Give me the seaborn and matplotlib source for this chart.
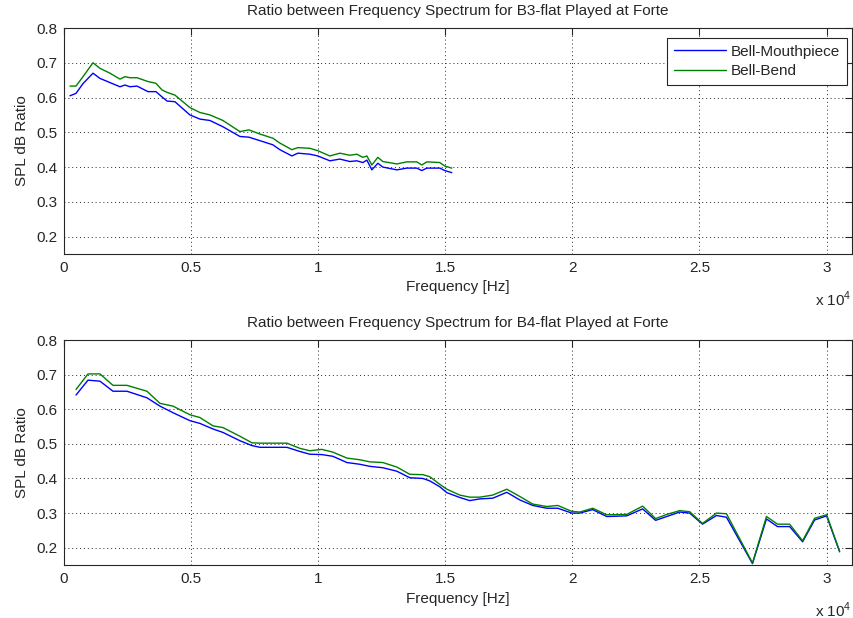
import numpy as np
import pandas as pd
import matplotlib
matplotlib.use("Agg")
import matplotlib.pyplot as plt
import seaborn as sns

# ---------------- data ----------------
series_names = ["Bell-Mouthpiece", "Bell-Bend"]
titles = ["Ratio between Frequency Spectrum for B3-flat Played at Forte",
          "Ratio between Frequency Spectrum for B4-flat Played at Forte"]

b3_freq = [236, 472, 747, 1140, 1416, 1809, 2202, 2399, 2595, 2870, 3303, 3617,
           3853, 4050, 4364, 4954, 5348, 5741, 6252, 6921, 7274, 7707, 8218, 8493,
           8965, 9201, 9673, 9987, 10459, 10852, 11245, 11521, 11757, 11914, 12111,
           12347, 12543, 13094, 13487, 13880, 14077, 14273, 14784, 14981, 15256]
b3_mouthpiece = [0.605, 0.612, 0.640, 0.670, 0.655, 0.643, 0.631, 0.636, 0.631, 0.633,
                 0.617, 0.617, 0.602, 0.590, 0.588, 0.550, 0.538, 0.534, 0.516, 0.488,
                 0.486, 0.476, 0.464, 0.450, 0.432, 0.440, 0.437, 0.432, 0.418, 0.423,
                 0.416, 0.418, 0.413, 0.420, 0.392, 0.411, 0.400, 0.392, 0.397, 0.397,
                 0.390, 0.397, 0.397, 0.390, 0.384]
b3_bend = [0.633, 0.633, 0.660, 0.700, 0.684, 0.670, 0.653, 0.660, 0.657, 0.657,
           0.646, 0.641, 0.622, 0.615, 0.607, 0.571, 0.557, 0.550, 0.534, 0.502,
           0.507, 0.495, 0.483, 0.469, 0.450, 0.456, 0.454, 0.447, 0.432, 0.440,
           0.434, 0.437, 0.428, 0.432, 0.406, 0.428, 0.416, 0.409, 0.415, 0.415,
           0.406, 0.415, 0.413, 0.403, 0.397]

b4_freq = [472, 944, 1416, 1927, 2477, 3264, 3775, 4286, 4954, 5348, 5859, 6252,
           6921, 7392, 7707, 8768, 9279, 9673, 10145, 10577, 11128, 11639, 12032,
           12543, 13094, 13605, 14116, 14391, 14784, 15060, 15571, 15964, 16358,
           16868, 17419, 17930, 18442, 18992, 19424, 19975, 20289, 20800, 21351,
           22137, 22763, 23274, 23710, 24221, 24614, 25118, 25669, 26062, 27085,
           27635, 28068, 28546, 29057, 29529, 30001, 30513]
b4_mouthpiece = [0.641, 0.684, 0.681, 0.652, 0.652, 0.633, 0.609, 0.590, 0.567, 0.559,
                 0.543, 0.533, 0.509, 0.495, 0.490, 0.490, 0.478, 0.470, 0.469, 0.464,
                 0.446, 0.441, 0.435, 0.431, 0.421, 0.402, 0.400, 0.393, 0.376, 0.359,
                 0.345, 0.336, 0.341, 0.343, 0.360, 0.338, 0.322, 0.314, 0.314, 0.300,
                 0.300, 0.310, 0.290, 0.292, 0.312, 0.279, 0.290, 0.303, 0.300, 0.268,
                 0.293, 0.288, 0.154, 0.283, 0.261, 0.261, 0.217, 0.280, 0.292, 0.188]
b4_bend = [0.657, 0.702, 0.702, 0.669, 0.669, 0.652, 0.617, 0.609, 0.584, 0.576,
           0.552, 0.547, 0.522, 0.503, 0.502, 0.502, 0.487, 0.480, 0.484, 0.476,
           0.459, 0.454, 0.448, 0.446, 0.433, 0.412, 0.411, 0.405, 0.383, 0.369,
           0.352, 0.346, 0.346, 0.352, 0.369, 0.348, 0.326, 0.319, 0.322, 0.305,
           0.303, 0.314, 0.295, 0.296, 0.320, 0.284, 0.296, 0.307, 0.304, 0.270,
           0.300, 0.298, 0.156, 0.290, 0.268, 0.268, 0.220, 0.285, 0.295, 0.190]

x_ticks = [0, 5000, 10000, 15000, 20000, 25000, 30000]
x_tick_labels = ["0", "0.5", "1", "1.5", "2", "2.5", "3"]
y_ticks = [0.2, 0.3, 0.4, 0.5, 0.6, 0.7, 0.8]
y_tick_labels = ["0.2", "0.3", "0.4", "0.5", "0.6", "0.7", "0.8"]

# ---------------- style ----------------
sns.set_style("white")
plt.rcParams["font.family"] = ["Liberation Sans", "DejaVu Sans"]
plt.rcParams["mathtext.fontset"] = "custom"
plt.rcParams["mathtext.rm"] = "Liberation Sans"
FS = 11
INK = "#262626"

fig = plt.figure(figsize=(8.54, 6.18), dpi=100)
ax_top = fig.add_axes([64 / 854, 1 - 254 / 618, 788 / 854, 226 / 618])
ax_bot = fig.add_axes([64 / 854, 1 - 565 / 618, 788 / 854, 225 / 618])

palette = {"Bell-Mouthpiece": "#0000ff", "Bell-Bend": "#008000"}

def make_df(freq, mp, bend):
    return pd.DataFrame({
        "freq": list(freq) * 2,
        "ratio": list(mp) + list(bend),
        "series": [series_names[0]] * len(freq) + [series_names[1]] * len(freq),
    })

datasets = [(b3_freq, b3_mouthpiece, b3_bend), (b4_freq, b4_mouthpiece, b4_bend)]

for i, (ax, (fr, mp, bd), title) in enumerate(zip([ax_top, ax_bot], datasets, titles)):
    df = make_df(fr, mp, bd)
    sns.lineplot(data=df, x="freq", y="ratio", hue="series", palette=palette,
                 hue_order=series_names, estimator=None, sort=False,
                 linewidth=1.0, ax=ax, legend=(i == 0))
    ax.set_xlim(0, 31000)
    ax.set_ylim(0.15, 0.8)
    ax.set_xticks(x_ticks)
    ax.set_xticklabels(x_tick_labels, fontsize=FS)
    ax.set_yticks(y_ticks)
    ax.set_yticklabels(y_tick_labels, fontsize=FS)
    ax.tick_params(direction="in", length=5, width=0.8, top=True, right=True,
                   color=INK, labelcolor=INK, pad=5)
    ax.grid(True, color=INK, linestyle=(0, (1, 3)), linewidth=0.7)
    for sp in ax.spines.values():
        sp.set_visible(True)
        sp.set_color(INK)
        sp.set_linewidth(0.8)
    ax.set_xlabel("Frequency [Hz]", fontsize=FS, color=INK, labelpad=4)
    ax.set_ylabel("SPL dB Ratio", fontsize=FS, color=INK, labelpad=5)
    ax.set_title(title, fontsize=FS, color=INK, pad=9)
    ax.text(1.0, -0.2, r"x 10$^{4}$", transform=ax.transAxes, ha="right",
            va="center", fontsize=FS, color=INK)

leg = ax_top.legend(loc="upper right", bbox_to_anchor=(0.994, 0.956),
                    borderaxespad=0, fontsize=FS, frameon=True, fancybox=False,
                    edgecolor=INK, framealpha=1, handlelength=3.4,
                    handletextpad=0.35, labelspacing=0.35, borderpad=0.45)
leg.get_frame().set_linewidth(0.8)

fig.savefig("out.png", dpi=100)
